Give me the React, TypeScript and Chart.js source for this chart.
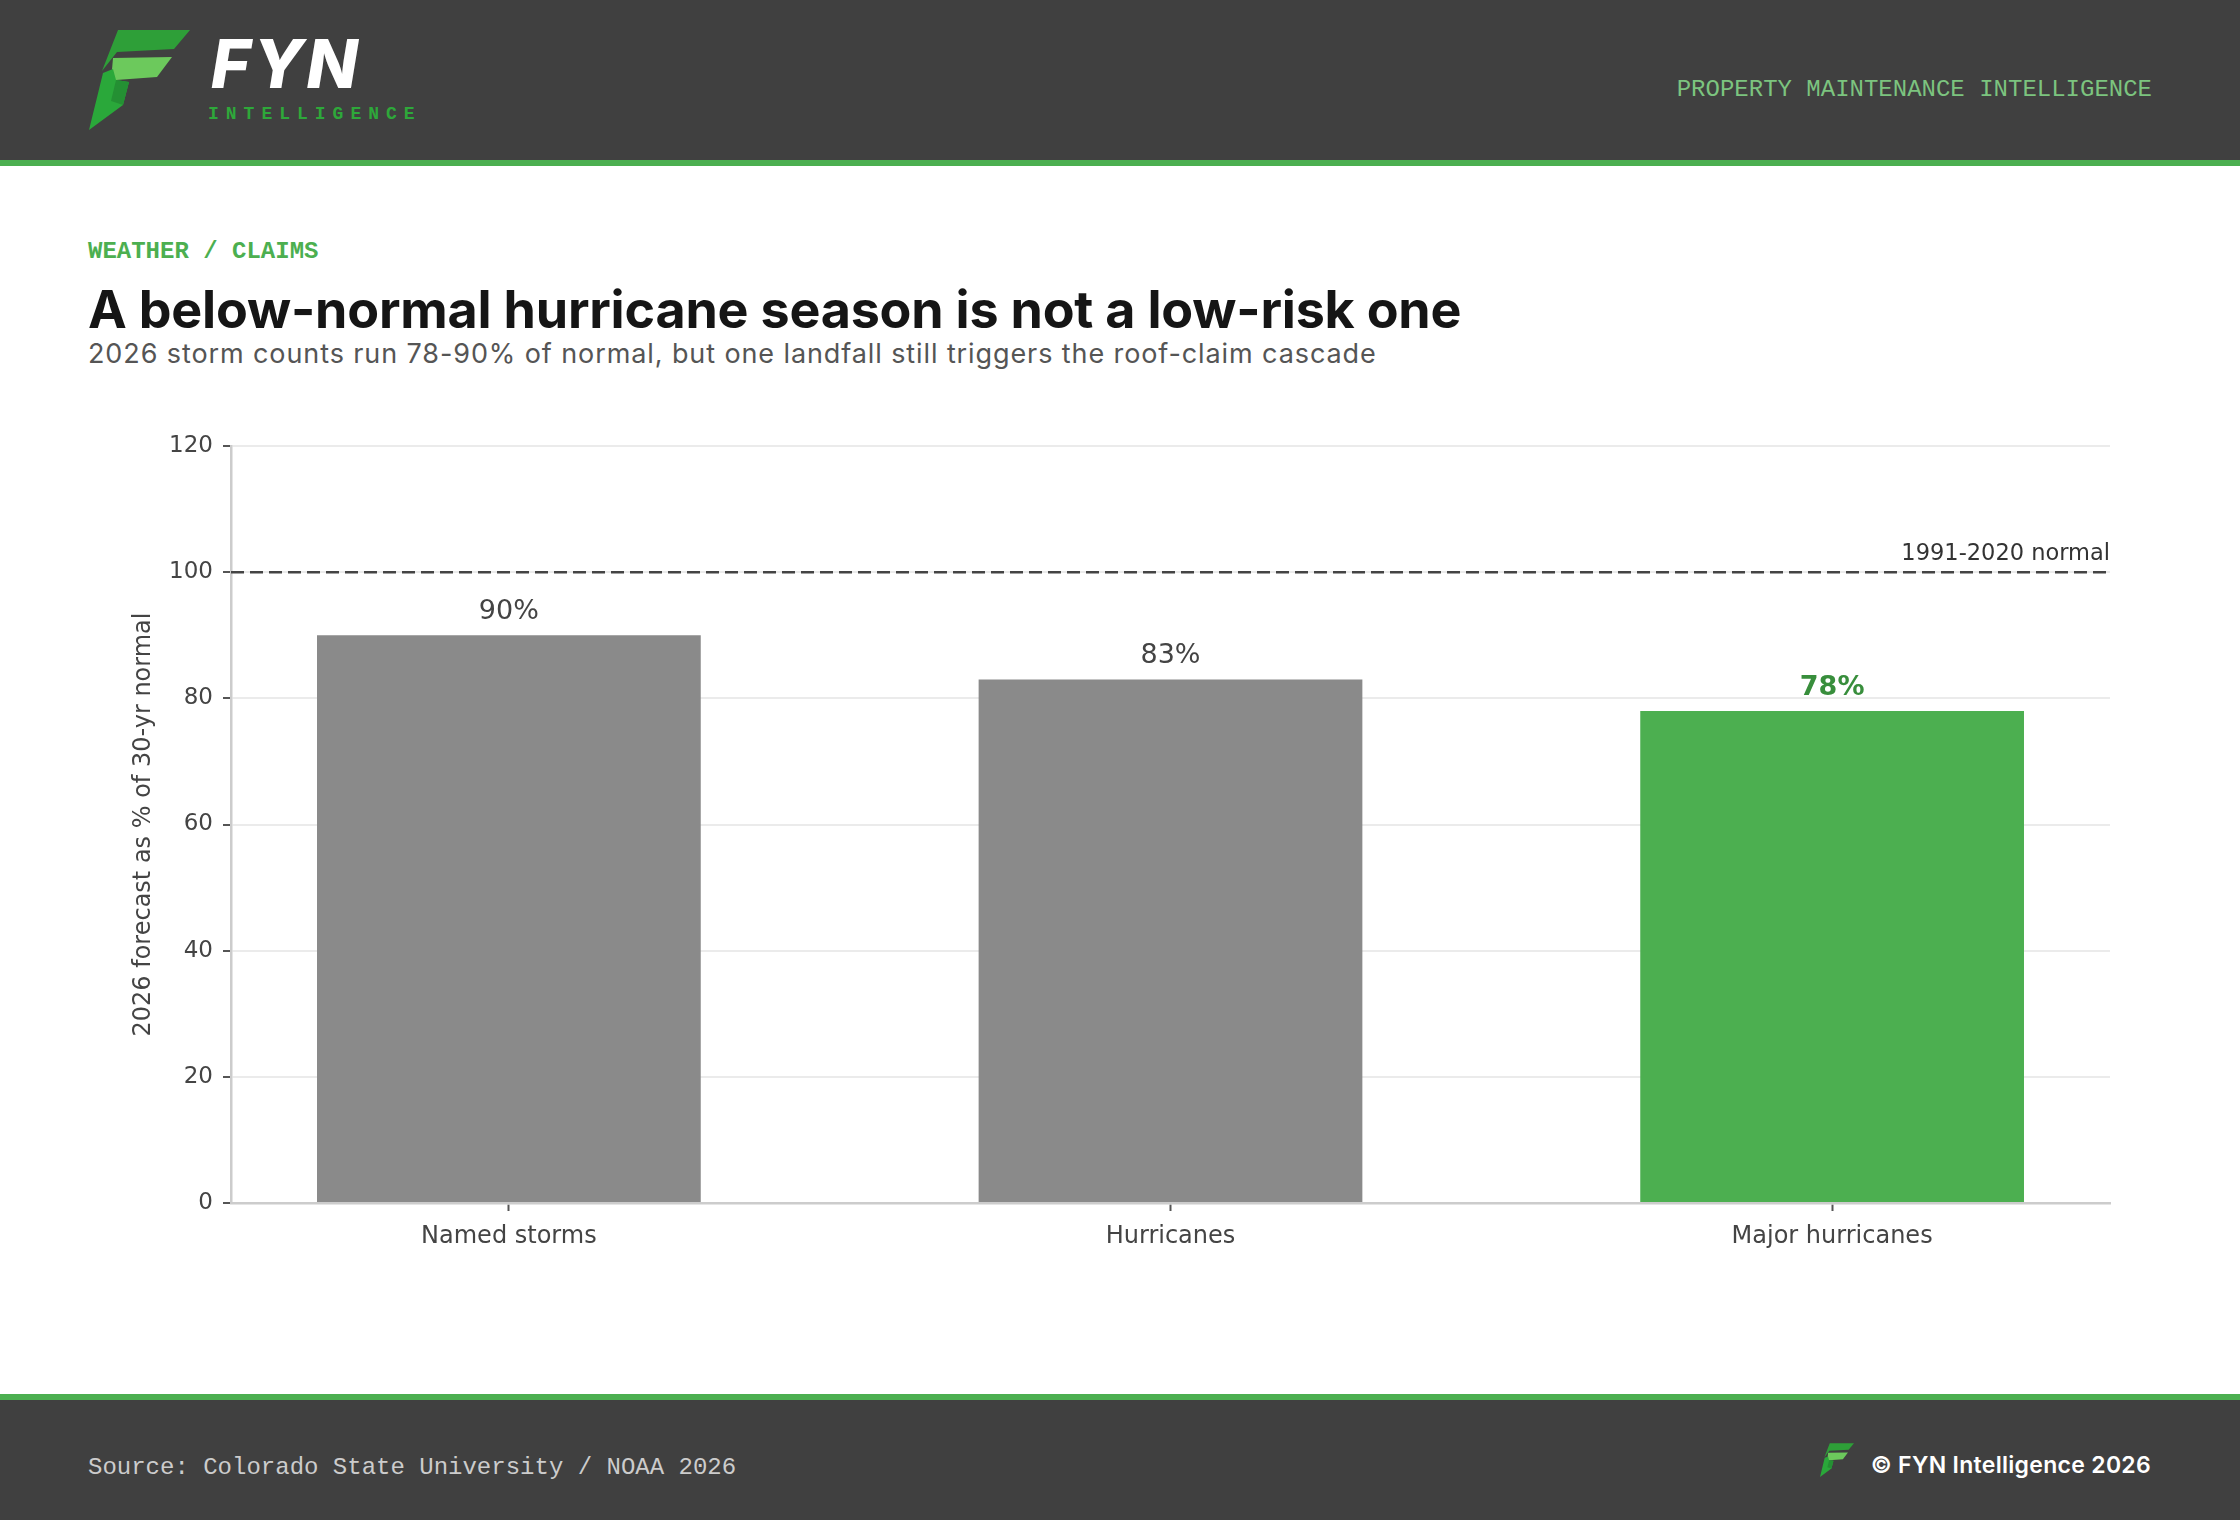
import React, { useEffect, useRef } from "react";
import { Chart, registerables } from "chart.js";

Chart.register(...registerables);

// Forecast data (percent of the 1991-2020 climatological normal)
const categories = ["Named storms", "Hurricanes", "Major hurricanes"];
const forecastPct = [90, 83, 78];
const yTicks = [0, 20, 40, 60, 80, 100, 120];
const normalValue = 100;
const normalLabel = "1991-2020 normal";
const highlightIndex = 2;

const yAxisTitle = "2026 forecast as % of 30-yr normal";
const kicker = "WEATHER / CLAIMS";
const headline = "A below-normal hurricane season is not a low-risk one";
const subhead =
  "2026 storm counts run 78-90% of normal, but one landfall still triggers the roof-claim cascade";
const sourceNote = "Source: Colorado State University / NOAA 2026";
const copyright = "\u00A9 FYN Intelligence 2026";
const tagline = "PROPERTY MAINTENANCE INTELLIGENCE";

const GREEN = "#4caf50";
const GREEN_DARK = "#388e3c";
const GREY = "#8a8a8a";
const DARK = "#404040";
const MONO = "'Liberation Mono', 'DejaVu Sans Mono', monospace";
const SANS = "Inter, 'Noto Sans', sans-serif";
const CHART_FONT = "'DejaVu Sans', sans-serif";

function LogoMark({ left, top, size }: { left: number; top: number; size: number }) {
  return (
    <svg
      style={{ position: "absolute", left, top }}
      width={size}
      height={size}
      viewBox="0 0 101 101"
    >
      <polygon points="29,1 101,1 85,20 28,23 13,42" fill="#2e9f38" />
      <polygon points="24,29 83,28 68,48 27,51 21,64" fill="#6cc95c" />
      <polygon points="14,44 24,40 27,51 40,53 34,76 0,101" fill="#2aa83a" />
      <polygon points="27,51 40,53 34,76 22,72" fill="#249033" />
    </svg>
  );
}

function BarChart() {
  const canvasRef = useRef<HTMLCanvasElement | null>(null);

  useEffect(() => {
    const canvas = canvasRef.current;
    if (!canvas) return;

    const valueLabels = {
      id: "valueLabels",
      afterDatasetsDraw(chart: any) {
        const ctx = chart.ctx;
        const meta = chart.getDatasetMeta(0);
        ctx.save();
        ctx.textAlign = "center";
        ctx.textBaseline = "alphabetic";
        meta.data.forEach((bar: any, i: number) => {
          const hi = i === highlightIndex;
          ctx.font = `${hi ? "bold " : ""}27px ${CHART_FONT}`;
          ctx.fillStyle = hi ? GREEN_DARK : "#444444";
          ctx.fillText(`${forecastPct[i]}%`, bar.x, bar.y - 16);
        });
        ctx.restore();
      },
    };

    const normalLine = {
      id: "normalLine",
      afterDatasetsDraw(chart: any) {
        const { ctx, chartArea, scales } = chart;
        const y = scales.y.getPixelForValue(normalValue);
        ctx.save();
        ctx.strokeStyle = "#444444";
        ctx.lineWidth = 2.5;
        ctx.setLineDash([13, 6]);
        ctx.beginPath();
        ctx.moveTo(chartArea.left, y);
        ctx.lineTo(chartArea.right, y);
        ctx.stroke();
        ctx.setLineDash([]);
        ctx.font = `22.5px ${CHART_FONT}`;
        ctx.fillStyle = "#333333";
        ctx.textAlign = "right";
        ctx.textBaseline = "alphabetic";
        ctx.fillText(normalLabel, chartArea.right, y - 12);
        ctx.restore();
      },
    };

    const chart = new Chart(canvas, {
      type: "bar",
      data: {
        datasets: [
          {
            data: categories.map((_, i) => ({ x: i, y: forecastPct[i] })),
            backgroundColor: categories.map((_, i) => (i === highlightIndex ? GREEN : GREY)),
            borderWidth: 0,
            categoryPercentage: 1,
            barPercentage: 0.58,
          },
        ],
      },
      options: {
        animation: false,
        responsive: false,
        devicePixelRatio: 1,
        layout: { padding: { left: 0, top: 46, right: 130, bottom: 37 } },
        plugins: { legend: { display: false }, tooltip: { enabled: false } },
        scales: {
          x: {
            type: "linear",
            min: -0.42,
            max: 2.42,
            offset: false,
            afterBuildTicks: (s: any) => {
              s.ticks = categories.map((_, i) => ({ value: i }));
            },
            afterFit: (s: any) => {
              s.height = 60;
            },
            border: { color: "#cccccc", width: 2.5 },
            grid: {
              drawOnChartArea: false,
              drawTicks: true,
              tickLength: 8,
              tickWidth: 2,
              tickColor: "#555555",
              offset: false,
            },
            ticks: {
              color: "#444444",
              font: { family: CHART_FONT, size: 24 },
              padding: 11,
              autoSkip: false,
              maxRotation: 0,
              callback: (v: any) => categories[Math.round(Number(v))] ?? "",
            },
          },
          y: {
            min: 0,
            max: 120,
            afterBuildTicks: (s: any) => {
              s.ticks = yTicks.map((v) => ({ value: v }));
            },
            afterFit: (s: any) => {
              s.width = 231;
            },
            border: { color: "#cccccc", width: 2.5 },
            grid: {
              color: "#ebebeb",
              lineWidth: 2,
              drawTicks: true,
              tickLength: 8,
              tickWidth: 2,
              tickColor: "#555555",
            },
            ticks: {
              color: "#444444",
              font: { family: CHART_FONT, size: 23 },
              padding: 10,
            },
            title: {
              display: true,
              text: yAxisTitle,
              color: "#444444",
              font: { family: CHART_FONT, size: 24 },
              padding: { top: 129, bottom: 0 },
            },
          },
        },
      },
      plugins: [normalLine, valueLabels],
    } as any);

    return () => chart.destroy();
  }, []);

  return (
    <canvas
      ref={canvasRef}
      width={2240}
      height={900}
      style={{ position: "absolute", left: 0, top: 400, width: 2240, height: 900 }}
    />
  );
}

export default function App() {
  return (
    <div
      style={{
        position: "fixed",
        left: 0,
        top: 0,
        width: 2240,
        height: 1520,
        background: "#ffffff",
        overflow: "hidden",
      }}
    >
      {/* header band */}
      <div style={{ position: "absolute", left: 0, top: 0, width: 2240, height: 160, background: DARK }} />
      <div style={{ position: "absolute", left: 0, top: 160, width: 2240, height: 6, background: GREEN }} />
      <LogoMark left={89} top={29} size={101} />
      <div
        style={{
          position: "absolute",
          left: 211,
          top: 30,
          fontFamily: SANS,
          fontWeight: 800,
          fontStyle: "italic",
          fontSize: 67,
          lineHeight: "67px",
          letterSpacing: 3,
          color: "#ffffff",
          whiteSpace: "nowrap",
        }}
      >
        FYN
      </div>
      <div
        style={{
          position: "absolute",
          left: 208,
          top: 105,
          fontFamily: MONO,
          fontWeight: 700,
          fontSize: 18,
          lineHeight: "18px",
          letterSpacing: 7,
          color: "#2ea83a",
          whiteSpace: "nowrap",
        }}
      >
        INTELLIGENCE
      </div>
      <div
        style={{
          position: "absolute",
          right: 2240 - 2152,
          top: 78,
          fontFamily: MONO,
          fontSize: 24,
          lineHeight: "24px",
          color: "#7cc47f",
          whiteSpace: "nowrap",
        }}
      >
        {tagline}
      </div>

      {/* headline block */}
      <div
        style={{
          position: "absolute",
          left: 88,
          top: 240,
          fontFamily: MONO,
          fontWeight: 700,
          fontSize: 24,
          lineHeight: "24px",
          color: GREEN,
          whiteSpace: "nowrap",
        }}
      >
        {kicker}
      </div>
      <div
        style={{
          position: "absolute",
          left: 88,
          top: 284,
          fontFamily: SANS,
          fontWeight: 700,
          fontSize: 52,
          lineHeight: "52px",
          letterSpacing: -0.2,
          color: "#151515",
          whiteSpace: "nowrap",
        }}
      >
        {headline}
      </div>
      <div
        style={{
          position: "absolute",
          left: 88,
          top: 340,
          fontFamily: SANS,
          fontWeight: 400,
          fontSize: 27,
          lineHeight: "27px",
          letterSpacing: 0.9,
          color: "#555555",
          whiteSpace: "nowrap",
        }}
      >
        {subhead}
      </div>

      <BarChart />

      {/* footer band */}
      <div style={{ position: "absolute", left: 0, top: 1394, width: 2240, height: 6, background: GREEN }} />
      <div style={{ position: "absolute", left: 0, top: 1400, width: 2240, height: 120, background: DARK }} />
      <div
        style={{
          position: "absolute",
          left: 88,
          top: 1456,
          fontFamily: MONO,
          fontSize: 24,
          lineHeight: "24px",
          color: "#cccccc",
          whiteSpace: "nowrap",
        }}
      >
        {sourceNote}
      </div>
      <LogoMark left={1820} top={1443} size={34} />
      <div
        style={{
          position: "absolute",
          right: 2240 - 2151,
          top: 1454,
          fontFamily: SANS,
          fontWeight: 600,
          fontSize: 23,
          lineHeight: "23px",
          letterSpacing: 0.3,
          color: "#ffffff",
          whiteSpace: "nowrap",
        }}
      >
        {copyright}
      </div>
    </div>
  );
}
